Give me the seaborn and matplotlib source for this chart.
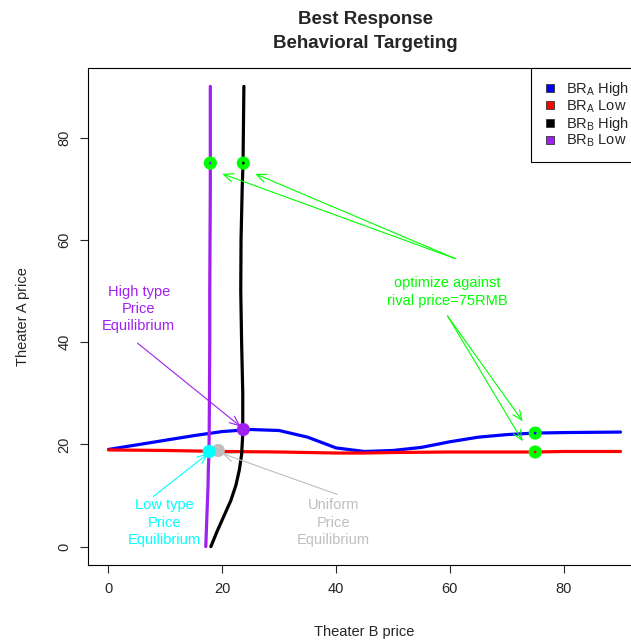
import numpy as np
import pandas as pd
import matplotlib
matplotlib.use("Agg")
import matplotlib.pyplot as plt
import seaborn as sns
from matplotlib.lines import Line2D

# best response of A (y) against B price (x)
br_a_x = [0, 5, 10, 15, 20, 25, 30, 35, 40, 45, 50, 55, 60, 65, 70, 75, 80, 85, 90]
br_a_high = [19.0, 19.9, 20.8, 21.7, 22.5, 22.9, 22.7, 21.4, 19.3, 18.6, 18.8, 19.4,
             20.5, 21.4, 21.9, 22.2, 22.3, 22.35, 22.4]
br_a_low = [18.9, 18.85, 18.8, 18.7, 18.6, 18.55, 18.5, 18.4, 18.3, 18.3, 18.4, 18.45,
            18.5, 18.5, 18.5, 18.5, 18.6, 18.6, 18.6]

# best response of B (x) against A price (y)
br_b_y = [0, 3, 6, 9, 12, 15, 18, 22, 30, 40, 50, 60, 70, 75, 80, 90]
br_b_high = [18.0, 19.1, 20.3, 21.5, 22.4, 23.0, 23.4, 23.6, 23.6, 23.4, 23.25, 23.3,
             23.5, 23.65, 23.7, 23.8]
br_b_low = [17.1, 17.2, 17.3, 17.4, 17.5, 17.55, 17.65, 17.7, 17.75, 17.8, 17.8, 17.85,
            17.9, 17.9, 17.9, 17.9]

# equilibria
eq_high = (23.7, 22.9)
eq_low = (17.7, 18.6)
eq_uniform = (19.3, 18.8)

# optimum points against rival price 75
opt_x = [17.9, 23.7, 75, 75]
opt_y = [75, 75, 22.2, 18.5]
opt_inner = ["purple", "black", "blue", "red"]

PURPLE = "#A020F0"
GREEN = "#00FF00"
GREY = "#BEBEBE"

sns.set_style("ticks")
plt.rcParams["font.family"] = ["Liberation Sans", "DejaVu Sans"]
plt.rcParams["mathtext.default"] = "regular"

fig = plt.figure(figsize=(6.31, 6.44), dpi=100)
ax = fig.add_axes([88 / 631, 1 - 565 / 644, 553 / 631, 497 / 644])

df_a = pd.DataFrame({"x": br_a_x, "high": br_a_high, "low": br_a_low})
df_b = pd.DataFrame({"y": br_b_y, "high": br_b_high, "low": br_b_low})

lw = 2.3
sns.lineplot(data=df_a, x="x", y="high", color="blue", lw=lw, ax=ax, label=r"BR$_A$ High")
sns.lineplot(data=df_a, x="x", y="low", color="red", lw=lw, ax=ax, label=r"BR$_A$ Low")
sns.lineplot(data=df_b, x="high", y="y", color="black", lw=lw, sort=False,
             estimator=None, ax=ax, label=r"BR$_B$ High")
sns.lineplot(data=df_b, x="low", y="y", color=PURPLE, lw=lw, sort=False,
             estimator=None, ax=ax, label=r"BR$_B$ Low")

sns.scatterplot(x=opt_x, y=opt_y, color=GREEN, s=90, edgecolor="none", ax=ax, zorder=5)
sns.scatterplot(x=opt_x, y=opt_y, hue=opt_inner, palette={"purple": PURPLE, "black": "black",
                "blue": "blue", "red": "red"}, s=4, edgecolor="none", legend=False,
                ax=ax, zorder=6)
sns.scatterplot(x=[eq_high[0]], y=[eq_high[1]], color=PURPLE, s=90, edgecolor="none", ax=ax, zorder=5)
sns.scatterplot(x=[eq_uniform[0]], y=[eq_uniform[1]], color=GREY, s=90, edgecolor="none", ax=ax, zorder=5)
sns.scatterplot(x=[eq_low[0]], y=[eq_low[1]], color="cyan", s=90, edgecolor="none", ax=ax, zorder=5)


def arrow(x0, y0, x1, y1, col):
    ax.annotate("", xy=(x1, y1), xytext=(x0, y0),
                arrowprops=dict(arrowstyle="->,head_length=0.7,head_width=0.3",
                                color=col, lw=0.8, shrinkA=0, shrinkB=0))


fs = 10.5
ax.text(59.6, 49.8, "optimize against\nrival price=75RMB", color=GREEN, ha="center",
        va="center", fontsize=fs, linespacing=1.3)
arrow(61.0, 56.3, 20.0, 72.9, GREEN)
arrow(61.0, 56.3, 25.8, 72.9, GREEN)
arrow(59.6, 45.1, 72.8, 24.5, GREEN)
arrow(59.6, 45.1, 72.8, 20.6, GREEN)

ax.text(5.3, 46.5, "High type\nPrice\nEquilibrium", color=PURPLE, ha="center",
        va="center", fontsize=fs, linespacing=1.3)
arrow(5.1, 39.8, 23.2, 23.5, PURPLE)

ax.text(9.8, 4.7, "Low type\nPrice\nEquilibrium", color="cyan", ha="center",
        va="center", fontsize=fs, linespacing=1.3)
arrow(7.9, 9.8, 17.5, 18.2, "cyan")

ax.text(39.6, 4.7, "Uniform\nPrice\nEquilibrium", color=GREY, ha="center",
        va="center", fontsize=fs, linespacing=1.3)
arrow(40.2, 10.2, 20.0, 18.2, GREY)

ax.set_xlim(-3.6, 93.6)
ax.set_ylim(-3.6, 93.6)
ax.set_xticks([0, 20, 40, 60, 80])
ax.set_yticks([0, 20, 40, 60, 80])
ax.tick_params(labelsize=fs, length=6, width=0.8, pad=6)
for lab in ax.get_yticklabels():
    lab.set_rotation(90)
    lab.set_va("center")
for s in ax.spines.values():
    s.set_visible(True)
    s.set_linewidth(0.8)
    s.set_color("black")
ax.set_xlabel("Theater B price", fontsize=fs, labelpad=21)
ax.set_ylabel("Theater A price", fontsize=fs, labelpad=20)

handles, labels = ax.get_legend_handles_labels()
cols = ["blue", "red", "black", PURPLE]
proxies = [Line2D([], [], marker="s", ls="none", markerfacecolor=c, markeredgecolor="#333333",
                  markersize=6, markeredgewidth=0.6) for c in cols]
leg = ax.legend(proxies, labels[:4], loc="upper right", bbox_to_anchor=(1, 1),
                borderaxespad=0, fancybox=False, edgecolor="black", fontsize=fs,
                handlelength=0.8, handletextpad=0.7, labelspacing=0.0, framealpha=1,
                borderpad=0.85)
leg.get_frame().set_linewidth(0.8)

fig.suptitle("Best Response\nBehavioral Targeting", fontsize=13.5, fontweight="bold",
             x=365 / 631, y=1 - 11 / 644, va="top", linespacing=1.5)

fig.savefig("out.png", dpi=100)
